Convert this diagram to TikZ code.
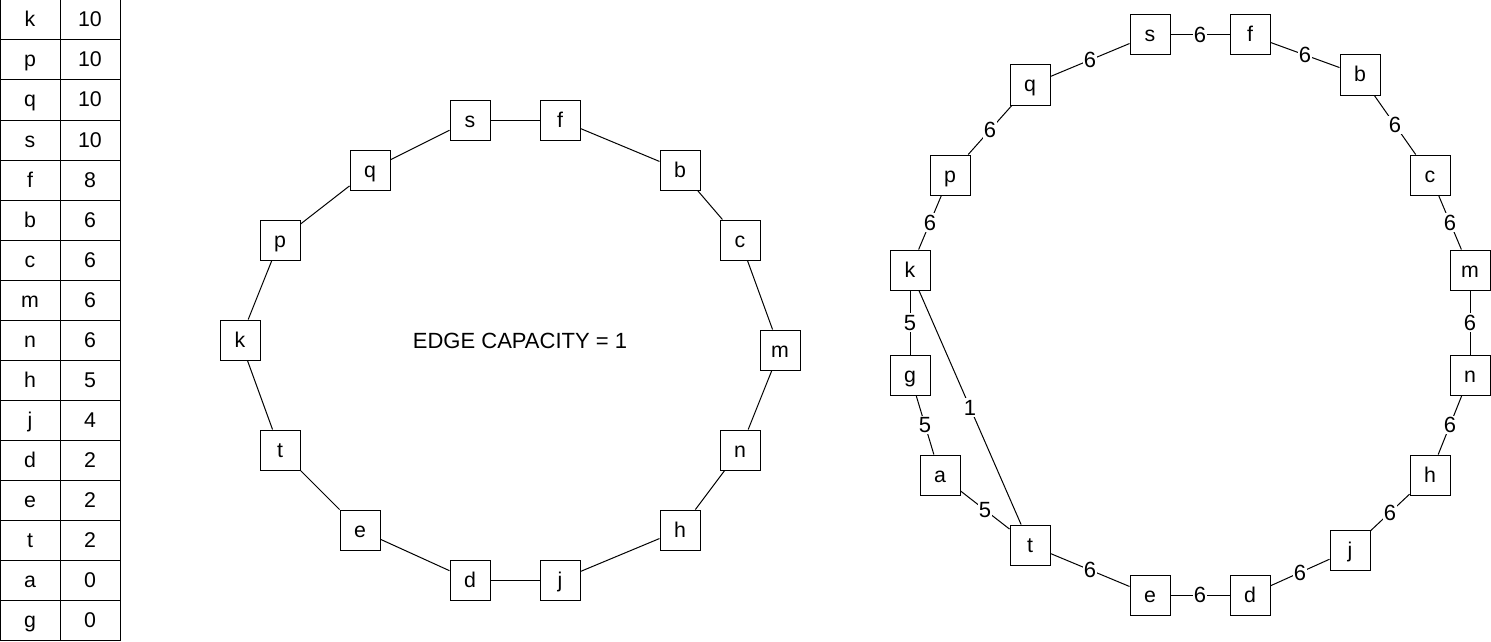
\documentclass[tikz,border=0pt]{standalone}
\usepackage{fontspec}
\setmainfont{Liberation Sans}
\usetikzlibrary{positioning}

\begin{document}
\begin{tikzpicture}[
    x=0.75pt, y=-0.75pt,
    vertex/.style={rectangle, draw, line width=0.75pt, minimum size=30pt, inner sep=0pt, text height=13.5pt, text depth=3pt, font=\fontsize{16}{19}\selectfont},
    cell/.style={rectangle, draw, line width=0.75pt, minimum width=45pt, minimum height=30pt, inner sep=0pt, text height=13.5pt, text depth=3pt, font=\fontsize{16}{19}\selectfont},
    link/.style={line width=0.75pt},
    weight/.style={fill=white, inner sep=1pt, text height=11.8pt, text depth=0pt, font=\fontsize{16.5}{19}\selectfont}
]
    \useasboundingbox (0,0) rectangle (1491,642);

    \foreach \name/\val [count=\i from 0] in {k/10,p/10,q/10,s/10,f/8,b/6,c/6,m/6,n/6,h/5,j/4,d/2,e/2,t/2,a/0,g/0} {
        \node[cell] (key\name) at (30,20+40*\i) {\name};
        \node[cell] (val\name) at (90,20+40*\i) {\val};
    }

    \node[vertex] (ls) at (470,120) {s};
    \node[vertex] (lf) at (560,120) {f};
    \node[vertex] (lb) at (680,170) {b};
    \node[vertex] (lc) at (740,240) {c};
    \node[vertex] (lm) at (780,350) {m};
    \node[vertex] (ln) at (740,450) {n};
    \node[vertex] (lh) at (680,530) {h};
    \node[vertex] (lj) at (560,580) {j};
    \node[vertex] (ld) at (470,580) {d};
    \node[vertex] (le) at (360,530) {e};
    \node[vertex] (lt) at (280,450) {t};
    \node[vertex] (lk) at (240,340) {k};
    \node[vertex] (lp) at (280,240) {p};
    \node[vertex] (lq) at (370,170) {q};
    \node[font=\fontsize{16.5}{19}\selectfont] (note) at (520,341) {EDGE CAPACITY = 1};

    \foreach \a/\b in {ls/lf,lf/lb,lb/lc,lc/lm,lm/ln,ln/lh,lh/lj,lj/ld,ld/le,le/lt,lt/lk,lk/lp,lp/lq,lq/ls}
        \draw[link] (\a) -- (\b);

    \node[vertex] (rs) at (1150,35) {s};
    \node[vertex] (rf) at (1250,35) {f};
    \node[vertex] (rb) at (1360,75) {b};
    \node[vertex] (rc) at (1430,175) {c};
    \node[vertex] (rm) at (1470,270) {m};
    \node[vertex] (rn) at (1470,375) {n};
    \node[vertex] (rh) at (1430,475) {h};
    \node[vertex] (rj) at (1350,550) {j};
    \node[vertex] (rd) at (1250,595) {d};
    \node[vertex] (re) at (1150,595) {e};
    \node[vertex] (rt) at (1030,545) {t};
    \node[vertex] (ra) at (940,475) {a};
    \node[vertex] (rg) at (910,375) {g};
    \node[vertex] (rk) at (910,270) {k};
    \node[vertex] (rp) at (950,175) {p};
    \node[vertex] (rq) at (1030,85) {q};

    \foreach \a/\b/\w in {rs/rf/6,rf/rb/6,rb/rc/6,rc/rm/6,rm/rn/6,rn/rh/6,rh/rj/6,rj/rd/6,rd/re/6,re/rt/6,rt/ra/5,ra/rg/5,rg/rk/5,rk/rp/6,rp/rq/6,rq/rs/6,rk/rt/1}
        \draw[link] (\a) -- node[weight] {\w} (\b);
\end{tikzpicture}
\end{document}
